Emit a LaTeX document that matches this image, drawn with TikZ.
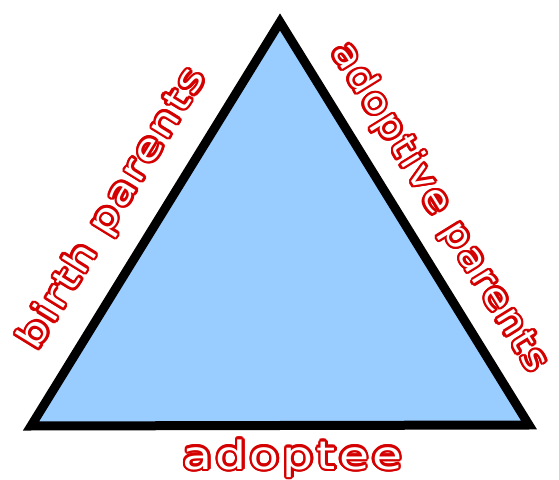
\documentclass[tikz,border=0pt]{standalone}
\usepackage{fontspec}
\setmainfont{DejaVu Sans}
\newfontfamily\labelfont[FakeStretch=1.25,LetterSpace=8]{DejaVu Sans}
\usepackage{xcolor}
\usetikzlibrary{calc}

\definecolor{triblue}{HTML}{99CCFF}
\definecolor{halored}{HTML}{D40000}

% white letters with a red rim
\newlength\halowidth
\setlength\halowidth{2.6pt}
\newcommand\halotext[1]{%
  \rlap{%
    \foreach \ang in {0,22.5,...,337.5}{%
      \pgfmathsetlengthmacro\hx{\halowidth*cos(\ang)}%
      \pgfmathsetlengthmacro\hy{\halowidth*sin(\ang)}%
      \rlap{\hspace*{\hx}\raisebox{\hy}{\textcolor{halored}{#1}}}}}%
  \textcolor{white}{#1}}

\begin{document}
\begin{tikzpicture}[x=1pt, y=1pt,
    sidelabel/.style={inner sep=0pt, font=\labelfont\fontsize{36}{40}\selectfont}]
  \useasboundingbox (0,0) rectangle (559,479);

  \coordinate (top) at (280,457);
  \coordinate (bl) at (31,53);
  \coordinate (br) at (529,54);

  \draw[line width=9pt, fill=triblue] (bl) -- (top) -- (br) -- cycle;

  \node[sidelabel, rotate=58.35] (birth)
    at ($(bl)!0.48!(top)!44pt!90:(top)$) {\halotext{birth parents}};
  \node[sidelabel, rotate=-58.3] (adoptive)
    at ($(top)!0.51!(br)!38pt!90:(br)$)
    {\scalebox{0.9}[1]{\halotext{adoptive parents}}};
  \node[sidelabel, font=\labelfont\fontsize{39}{44}\selectfont, anchor=base]
    (adoptee) at (292.5,10) {\halotext{adoptee}};
\end{tikzpicture}
\end{document}
